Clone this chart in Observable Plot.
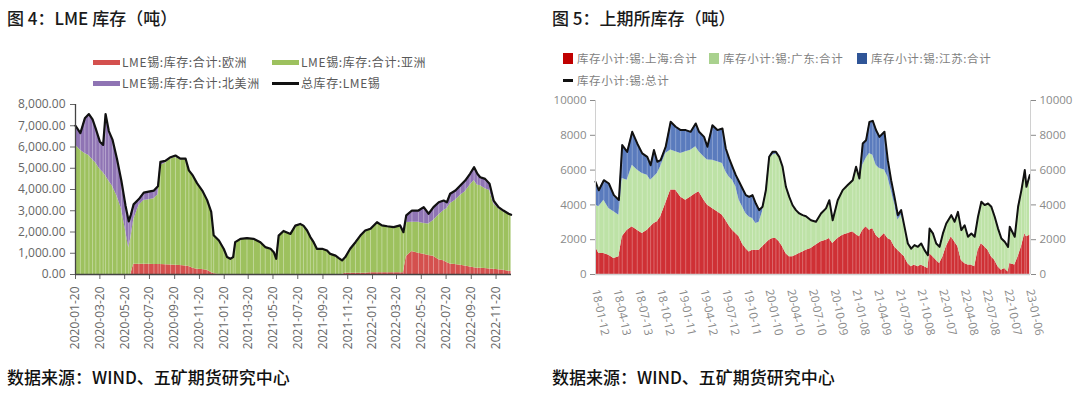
<!DOCTYPE html>
<html><head><meta charset="utf-8">
<script src="https://cdn.jsdelivr.net/npm/d3@7"></script>
<script src="https://cdn.jsdelivr.net/npm/@observablehq/plot@0.6"></script>
<style>
body{margin:0;background:#fff;width:1080px;height:394px;overflow:hidden;position:relative;font-family:"Noto Sans CJK SC",sans-serif;}
.title{position:absolute;top:5px;font-size:17px;font-weight:500;color:#1a1a1a;white-space:nowrap;}
.caption{position:absolute;top:364px;font-size:17px;font-weight:500;color:#111;white-space:nowrap;}
.item{position:absolute;display:flex;align-items:center;height:16px;line-height:16px;white-space:nowrap;}
.chart{position:absolute;}
</style></head><body>
<div class="title" style="left:7px">图 4：LME 库存（吨）</div>
<div class="title" style="left:552px">图 5：上期所库存（吨）</div>
<div class="chart" id="left" style="left:0;top:95px"></div>
<div class="chart" id="right" style="left:540px;top:90px"></div>
<div class="caption" style="left:7px">数据来源：WIND、五矿期货研究中心</div>
<div class="caption" style="left:552px">数据来源：WIND、五矿期货研究中心</div>
<script>
// ---------- LME tin stocks (tonnes) ----------
const lmeDates = ["2020-01-20","2020-02-01","2020-02-12","2020-02-22","2020-03-02","2020-03-10","2020-03-20","2020-03-28","2020-04-03","2020-04-11","2020-04-20","2020-05-01","2020-05-12","2020-05-22","2020-05-30","2020-06-04","2020-06-11","2020-06-24","2020-07-06","2020-07-18","2020-07-31","2020-08-10","2020-08-16","2020-08-28","2020-09-10","2020-09-22","2020-10-04","2020-10-17","2020-10-25","2020-11-04","2020-11-14","2020-11-27","2020-12-09","2020-12-19","2020-12-25","2021-01-07","2021-01-19","2021-01-27","2021-02-04","2021-02-11","2021-02-16","2021-03-01","2021-03-17","2021-04-02","2021-04-19","2021-05-01","2021-05-14","2021-05-22","2021-05-28","2021-06-03","2021-06-15","2021-07-02","2021-07-14","2021-07-26","2021-08-03","2021-08-12","2021-08-20","2021-08-28","2021-09-05","2021-09-18","2021-09-30","2021-10-08","2021-10-21","2021-10-29","2021-11-06","2021-11-14","2021-11-26","2021-12-09","2021-12-21","2022-01-02","2022-01-15","2022-01-31","2022-02-12","2022-02-25","2022-03-13","2022-03-29","2022-04-06","2022-04-13","2022-04-27","2022-05-13","2022-05-26","2022-06-07","2022-06-19","2022-07-02","2022-07-14","2022-07-22","2022-07-30","2022-08-12","2022-08-24","2022-09-05","2022-09-17","2022-09-27","2022-10-05","2022-10-12","2022-10-24","2022-11-04","2022-11-14","2022-11-26","2022-12-08","2022-12-21","2022-12-27"];
const lmeEurope = [0,0,0,0,0,0,0,0,0,0,0,0,0,0,0,0,480,480,480,480,470,470,470,460,450,440,420,400,380,300,250,230,200,100,50,0,0,0,0,0,0,0,0,0,0,0,0,0,0,0,0,0,0,0,0,0,0,0,0,0,0,0,0,0,0,60,60,60,60,60,80,80,80,80,80,80,80,850,1080,1000,950,900,860,700,650,560,500,470,430,400,350,320,300,300,280,260,250,220,200,150,140];
const lmeAsia = [6100,5850,5700,5600,5400,5250,4950,4800,4650,4400,4150,3700,3100,2100,1250,1700,2070,2770,3000,3040,3090,3280,4660,4790,4990,5080,4980,5000,4490,4330,4030,3700,3290,2840,1790,1590,1190,810,730,810,1510,1670,1700,1670,1510,1280,1200,1040,730,1820,2040,1900,2290,2370,2290,2060,1750,1510,1200,1200,1120,960,880,760,650,750,1140,1450,1760,2000,2060,2370,2220,2180,2140,2220,1900,1600,1380,1460,1450,1480,1680,2100,2350,2540,2830,3030,3290,3500,3850,4100,3900,3890,3750,3690,3080,2880,2750,2680,2650];
const lmeNorthAmerica = [900,800,1650,1950,1900,1600,1300,1300,2900,2350,2200,1750,1300,1150,1250,1100,750,300,370,380,390,400,170,100,80,80,50,50,30,20,20,20,10,10,10,10,10,10,10,10,10,10,10,10,10,10,10,10,10,10,10,10,10,10,10,10,10,10,10,10,10,10,10,10,10,10,10,10,10,10,10,10,10,10,10,10,10,330,550,550,770,480,630,600,480,300,470,450,470,520,540,630,540,390,470,320,150,70,60,30,20];
const lmeTotal = [7000,6650,7350,7550,7300,6850,6250,6100,7550,6750,6350,5450,4400,3250,2500,2800,3300,3550,3850,3900,3950,4150,5300,5350,5520,5600,5450,5450,4900,4650,4300,3950,3500,2950,1850,1600,1200,820,740,820,1520,1680,1710,1680,1520,1290,1210,1050,740,1830,2050,1910,2300,2380,2300,2070,1760,1520,1210,1210,1130,970,890,770,660,820,1210,1520,1830,2070,2150,2460,2310,2270,2230,2310,1990,2780,3010,3010,3170,2860,3170,3400,3480,3400,3800,3950,4190,4420,4740,5050,4740,4580,4500,4270,3480,3170,3010,2860,2810];
const lmeSeries = ["LME锡:库存:合计:欧洲","LME锡:库存:合计:亚洲","LME锡:库存:合计:北美洲"];
const lmeTotalName = "总库存:LME锡";
const lmeColors = ["#d4504e","#9dc15e","#8f74b4"];
const lmeXTicks = ["2020-01-20","2020-03-20","2020-05-20","2020-07-20","2020-09-20","2020-11-20","2021-01-20","2021-03-20","2021-05-20","2021-07-20","2021-09-20","2021-11-20","2022-01-20","2022-03-20","2022-05-20","2022-07-20","2022-09-20","2022-11-20"];
const lmeYTicks = [0,1000,2000,3000,4000,5000,6000,7000,8000];
const lmeXDomain = ["2020-01-20","2022-12-28"];

// ---------- SHFE tin stocks (tonnes) ----------
const shfeDates = ["2018-01-12","2018-01-26","2018-02-16","2018-03-09","2018-03-30","2018-04-20","2018-05-04","2018-05-25","2018-06-15","2018-07-06","2018-07-27","2018-08-17","2018-08-31","2018-09-14","2018-09-28","2018-10-12","2018-11-02","2018-11-23","2018-12-14","2019-01-04","2019-01-25","2019-02-15","2019-03-08","2019-03-22","2019-04-12","2019-04-26","2019-05-17","2019-06-07","2019-06-28","2019-07-12","2019-07-26","2019-08-09","2019-08-23","2019-09-06","2019-09-20","2019-10-04","2019-10-18","2019-11-01","2019-11-15","2019-11-29","2019-12-13","2019-12-27","2020-01-10","2020-01-24","2020-02-07","2020-02-21","2020-03-06","2020-03-20","2020-04-03","2020-04-17","2020-05-01","2020-05-15","2020-05-29","2020-06-12","2020-07-03","2020-07-24","2020-08-14","2020-09-04","2020-09-18","2020-10-02","2020-10-23","2020-11-13","2020-12-04","2020-12-25","2021-01-08","2021-01-22","2021-02-05","2021-02-19","2021-03-05","2021-03-19","2021-04-02","2021-04-16","2021-05-07","2021-05-21","2021-06-04","2021-06-18","2021-07-02","2021-07-16","2021-07-30","2021-08-13","2021-08-27","2021-09-10","2021-09-24","2021-10-08","2021-10-22","2021-11-05","2021-11-12","2021-11-26","2021-12-10","2021-12-24","2022-01-07","2022-01-21","2022-02-11","2022-02-25","2022-03-11","2022-03-25","2022-04-08","2022-04-22","2022-05-06","2022-05-20","2022-06-03","2022-06-17","2022-07-01","2022-07-15","2022-07-29","2022-08-12","2022-08-26","2022-09-09","2022-09-23","2022-10-07","2022-10-14","2022-11-04","2022-11-18","2022-12-02","2022-12-16","2022-12-23","2023-01-06"];
const shfeShanghai = [1590,1210,1210,1110,920,1020,2170,2550,2740,2550,2360,2550,2740,2930,3030,3320,4080,4850,4850,4460,4270,4460,4660,4750,4270,3990,3790,3600,3410,3120,2800,2550,2360,2170,1760,1500,1300,1400,1400,1400,1590,1780,1970,2070,2070,1880,1590,1210,1020,1020,1110,1210,1300,1400,1500,1690,1880,1970,2070,1780,2070,2260,2360,2450,2300,2170,2550,2740,2550,2640,2260,2070,2360,2070,1970,1590,1400,1210,1020,630,440,540,440,540,440,350,1210,1020,820,630,1020,1590,2170,1880,1590,820,630,540,540,440,1400,1780,1590,1400,1020,820,440,250,350,150,630,540,1020,1590,2360,2170,2260];
const shfeGuangdong = [2400,2680,3060,2680,2680,2390,3350,2870,3540,3450,3450,3160,2680,2680,2780,2870,2870,2300,2200,2500,2780,2680,2680,2300,2490,2590,2780,2880,2970,2780,2800,2870,2680,2100,2130,2010,2010,1820,1530,1600,2010,2870,4700,4790,4850,4880,4600,3830,3440,2960,2590,2300,2110,1950,1620,1340,1630,1830,2200,1340,2200,2590,2780,2970,3890,3230,3730,3930,4400,4220,4020,4020,3640,3540,2870,2490,1720,2200,1720,1150,1050,1150,1150,1240,960,760,1430,1340,960,960,1340,1340,1240,1150,2010,1730,2200,1630,1820,1730,1920,2400,2400,2680,2870,2500,2200,1820,1530,1440,2110,1630,2870,3260,3640,2870,3450];
const shfeJiangsu = [1340,950,1150,1440,960,870,1920,1630,1920,1530,1150,1050,860,1540,670,380,380,1630,1440,1340,1250,1060,1340,1150,1150,760,2010,1820,2010,1340,1070,770,670,1060,1050,1050,1150,1340,1150,700,290,190,100,190,130,0,0,0,0,0,0,0,0,0,0,0,0,0,0,0,0,0,0,0,0,120,1250,1050,1820,1970,2010,1820,2200,960,580,380,290,290,0,0,0,0,0,0,0,0,0,0,0,0,0,0,0,0,0,0,0,0,0,0,0,0,0,0,0,0,0,0,0,0,0,0,0,0,0,0,0];
const shfeTotal = [5330,4840,5420,5230,4560,4280,7440,7050,8200,7530,6960,6760,6280,7150,6480,6570,7330,8780,8490,8300,8300,8200,8680,8200,7910,7340,8580,8300,8390,7240,6670,6190,5710,5330,4940,4560,4460,4560,4080,3700,3890,4840,6770,7050,7050,6760,6190,5040,4460,3980,3700,3510,3410,3350,3120,3030,3510,3800,4270,3120,4270,4850,5140,5420,6190,5520,7530,7720,8770,8830,8290,7910,8200,6570,5420,4460,3410,3700,2740,1780,1490,1690,1590,1780,1400,1110,2640,2360,1780,1590,2360,2930,3410,3030,3600,2550,2830,2170,2360,2170,3320,4180,3990,4080,3890,3320,2640,2070,1880,1590,2740,2170,3890,4850,6000,5040,5710];
const shfeSeries = ["库存小计:锡:上海:合计","库存小计:锡:广东:合计","库存小计:锡:江苏:合计"];
const shfeTotalName = "库存小计:锡:总计";
const shfeColors = ["#cf3035","#bde2a6","#5a7bbd"];
const shfeXTicks = ["2018-01-12","2018-04-13","2018-07-13","2018-10-12","2019-01-11","2019-04-12","2019-07-12","2019-10-11","2020-01-10","2020-04-10","2020-07-10","2020-10-09","2021-01-08","2021-04-09","2021-07-09","2021-10-08","2022-01-07","2022-04-08","2022-07-08","2022-10-07","2023-01-06"];
const shfeYTicks = [0,2000,4000,6000,8000,10000];
const shfeXDomain = ["2018-01-12","2023-01-09"];

const parse = d3.utcParse("%Y-%m-%d");

function tidy(dates, seriesArrays, names) {
  const rows = [];
  seriesArrays.forEach((arr, s) => arr.forEach((v, i) => rows.push({date: parse(dates[i]), series: names[s], value: v})));
  return rows;
}
function totals(dates, arr) { return dates.map((d, i) => ({date: parse(d), value: arr[i]})); }

// ---------- left chart ----------
const lmeRows = tidy(lmeDates, [lmeEurope, lmeAsia, lmeNorthAmerica], lmeSeries);
const lmeLine = totals(lmeDates, lmeTotal);
const lmeDom = lmeXDomain.map(parse);
const leftPlot = Plot.plot({
  width: 540, height: 270,
  marginLeft: 75, marginRight: 29, marginTop: 9, marginBottom: 91,
  style: {fontFamily: "'Open Sans', sans-serif", fontSize: "12px", color: "#666", background: "transparent", overflow: "visible"},
  x: {type: "utc", domain: lmeDom, ticks: lmeXTicks.map(parse), tickFormat: d3.utcFormat("%Y-%m-%d"), tickRotate: -90, tickSize: 5, tickPadding: 7, label: null},
  y: {domain: [0, 8000], ticks: lmeYTicks, tickFormat: d3.format(",.2f"), tickSize: 5, tickPadding: 5, label: null},
  color: {domain: lmeSeries, range: lmeColors},
  marks: [
    Plot.areaY(lmeRows, {x: "date", y: "value", fill: "series", curve: "linear"}),
    Plot.ruleX(lmeLine, {x: "date", y1: 0, y2: "value", stroke: "#fff", strokeOpacity: 0.45, strokeWidth: 0.8}),
    Plot.lineY(lmeLine, {x: "date", y: "value", stroke: "#111", strokeWidth: 2.2}),
    Plot.ruleY([0], {stroke: "#444", strokeWidth: 1.3}),
    Plot.ruleX([lmeDom[0]], {stroke: "#444", strokeWidth: 1.3})
  ]
});
document.getElementById("left").appendChild(leftPlot);

// ---------- right chart ----------
const shfeRows = tidy(shfeDates, [shfeShanghai, shfeGuangdong, shfeJiangsu], shfeSeries);
const shfeLine = totals(shfeDates, shfeTotal);
const shfeDom = shfeXDomain.map(parse);
const rightPlot = Plot.plot({
  width: 540, height: 275,
  marginLeft: 55, marginRight: 50, marginTop: 10, marginBottom: 91,
  style: {fontFamily: "'Open Sans', sans-serif", fontSize: "11.5px", color: "#8a8a8a", background: "transparent", overflow: "visible"},
  x: {type: "utc", domain: shfeDom, ticks: shfeXTicks.map(parse), tickFormat: d3.utcFormat("%y-%m-%d"), tickRotate: 78, tickSize: 0, tickPadding: 15, label: null},
  y: {domain: [0, 10000], ticks: shfeYTicks, tickFormat: d3.format("d"), axis: "both", tickSize: 5, tickPadding: 4, label: null},
  color: {domain: shfeSeries, range: shfeColors},
  marks: [
    Plot.areaY(shfeRows, {x: "date", y: "value", fill: "series", curve: "linear"}),
    Plot.ruleX(shfeLine, {x: "date", y1: 0, y2: "value", stroke: "#fff", strokeOpacity: 0.4, strokeWidth: 0.7}),
    Plot.lineY(shfeLine, {x: "date", y: "value", stroke: "#111", strokeWidth: 2}),
    Plot.ruleY([0], {stroke: "#d0d0d0", strokeWidth: 1.5}),
    Plot.ruleX(shfeDom, {stroke: "#d0d0d0", strokeWidth: 1})
  ]
});
document.getElementById("right").appendChild(rightPlot);

// ---------- legends (HTML, text from the series names) ----------
function addItem(x, cy, w, h, color, label, gap, size, textColor) {
  const d = document.createElement("div");
  d.className = "item";
  d.style.left = x + "px";
  d.style.top = (cy - 8) + "px";
  d.style.fontSize = size + "px";
  d.style.color = textColor;
  d.style.letterSpacing = "0.6px";
  const sw = document.createElement("span");
  sw.style.cssText = `display:inline-block;width:${w}px;height:${h}px;background:${color};margin-right:${gap}px;flex:none`;
  d.appendChild(sw);
  d.appendChild(document.createTextNode(label));
  document.body.appendChild(d);
}
addItem(93, 62, 27, 5, lmeColors[0], lmeSeries[0], 2, 12, "#595959");
addItem(272, 62, 27, 5, lmeColors[1], lmeSeries[1], 2, 12, "#595959");
addItem(93, 83, 27, 5, lmeColors[2], lmeSeries[2], 2, 12, "#595959");
addItem(272, 83, 27, 3, "#111", lmeTotalName, 2, 12, "#595959");
addItem(563, 58, 10, 11, "#c00000", shfeSeries[0], 4, 11.5, "#7f7f7f");
addItem(709, 58, 10, 11, "#a9d18e", shfeSeries[1], 4, 11.5, "#7f7f7f");
addItem(857, 58, 10, 11, "#2f5597", shfeSeries[2], 4, 11.5, "#7f7f7f");
addItem(563, 80, 10, 3, "#111", shfeTotalName, 4, 11.5, "#7f7f7f");
</script>
</body></html>
